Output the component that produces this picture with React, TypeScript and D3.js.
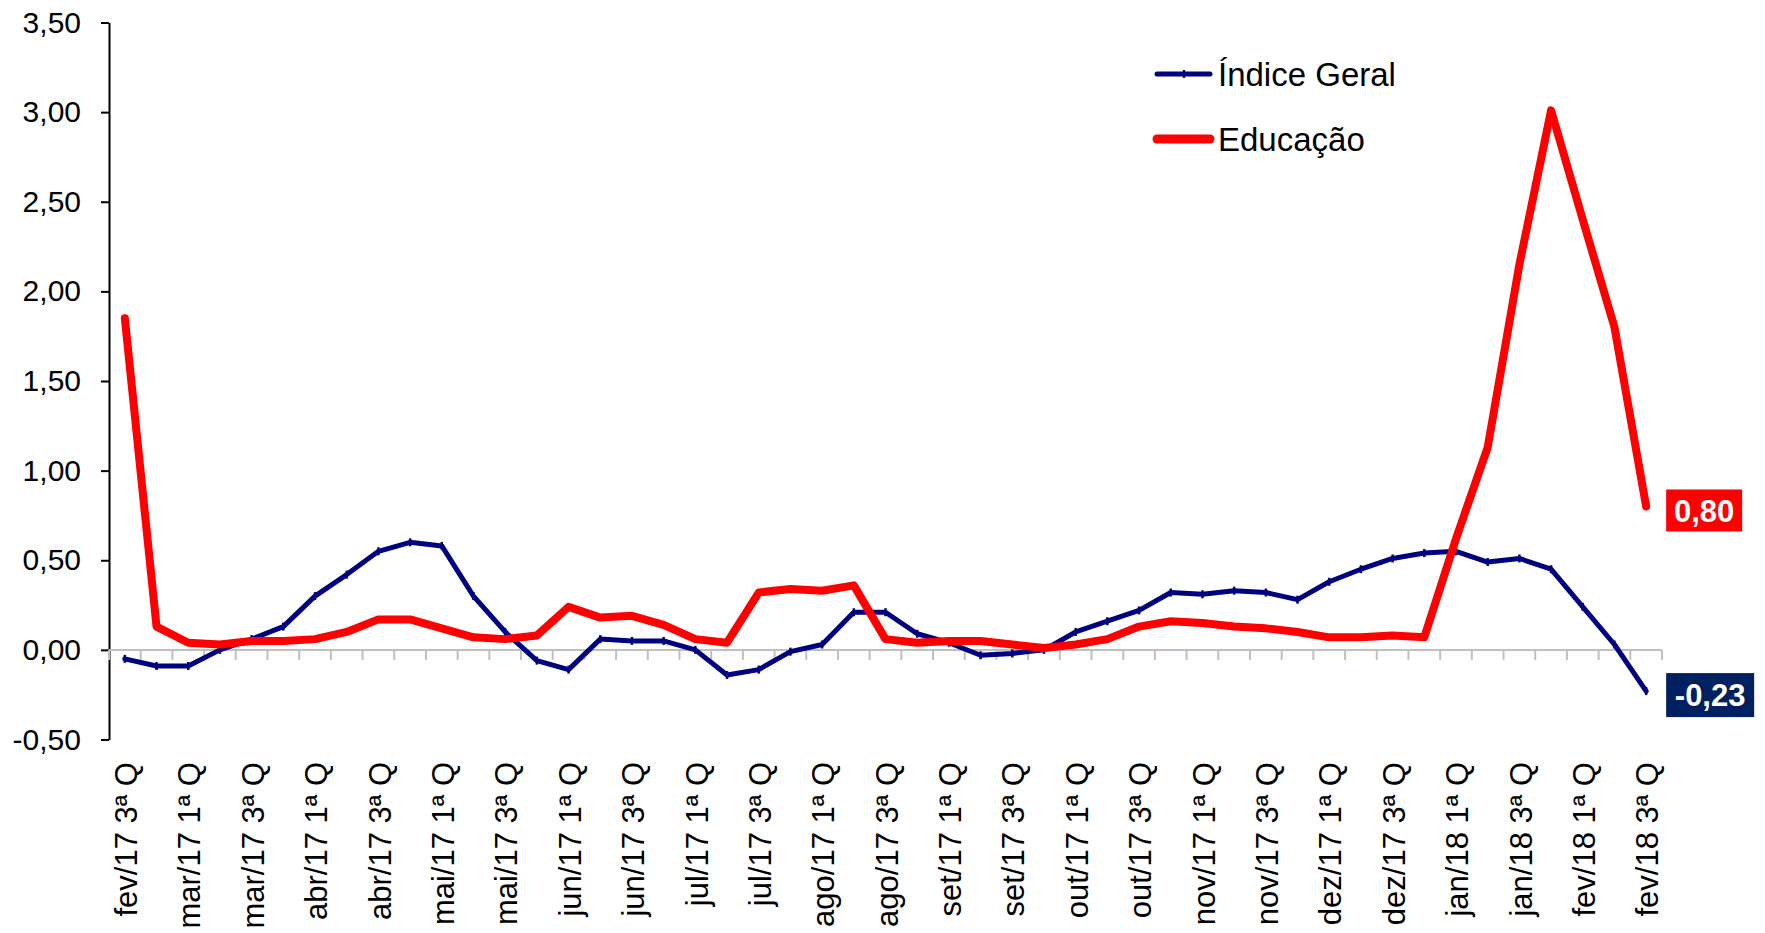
import { useEffect, useRef } from "react"
import * as d3 from "d3"

// quadrissemanas, fev/17 3ª Q .. fev/18 3ª Q
const categories = [
  "fev/17 3ª Q", "fev/17 4ª Q",
  "mar/17 1ª Q", "mar/17 2ª Q", "mar/17 3ª Q", "mar/17 4ª Q",
  "abr/17 1ª Q", "abr/17 2ª Q", "abr/17 3ª Q", "abr/17 4ª Q",
  "mai/17 1ª Q", "mai/17 2ª Q", "mai/17 3ª Q", "mai/17 4ª Q",
  "jun/17 1ª Q", "jun/17 2ª Q", "jun/17 3ª Q", "jun/17 4ª Q",
  "jul/17 1ª Q", "jul/17 2ª Q", "jul/17 3ª Q", "jul/17 4ª Q",
  "ago/17 1ª Q", "ago/17 2ª Q", "ago/17 3ª Q", "ago/17 4ª Q",
  "set/17 1ª Q", "set/17 2ª Q", "set/17 3ª Q", "set/17 4ª Q",
  "out/17 1ª Q", "out/17 2ª Q", "out/17 3ª Q", "out/17 4ª Q",
  "nov/17 1ª Q", "nov/17 2ª Q", "nov/17 3ª Q", "nov/17 4ª Q",
  "dez/17 1ª Q", "dez/17 2ª Q", "dez/17 3ª Q", "dez/17 4ª Q",
  "jan/18 1ª Q", "jan/18 2ª Q", "jan/18 3ª Q", "jan/18 4ª Q",
  "fev/18 1ª Q", "fev/18 2ª Q", "fev/18 3ª Q",
]

const indiceGeral = [
  -0.05, -0.09, -0.09, 0.0, 0.06, 0.13, 0.3, 0.42, 0.55, 0.6,
  0.58, 0.3, 0.1, -0.06, -0.11, 0.06, 0.05, 0.05, 0.0, -0.14,
  -0.11, -0.01, 0.03, 0.21, 0.21, 0.09, 0.04, -0.03, -0.02, 0.0,
  0.1, 0.16, 0.22, 0.32, 0.31, 0.33, 0.32, 0.28, 0.38, 0.45,
  0.51, 0.54, 0.55, 0.49, 0.51, 0.45, 0.24, 0.03, -0.23,
]

const educacao = [
  1.85, 0.13, 0.04, 0.03, 0.05, 0.05, 0.06, 0.1, 0.17, 0.17,
  0.12, 0.07, 0.06, 0.08, 0.24, 0.18, 0.19, 0.14, 0.06, 0.04,
  0.32, 0.34, 0.33, 0.36, 0.06, 0.04, 0.05, 0.05, 0.03, 0.01,
  0.03, 0.06, 0.13, 0.16, 0.15, 0.13, 0.12, 0.1, 0.07, 0.07,
  0.08, 0.07, 0.62, 1.13, 2.15, 3.01, 2.4, 1.8, 0.8,
]

const yTicks = [-0.5, 0, 0.5, 1, 1.5, 2, 2.5, 3, 3.5]

const seriesNames = ["Índice Geral", "Educação"]

export default function App() {
  const svgRef = useRef<SVGSVGElement>(null)

  useEffect(() => {
    if (!svgRef.current) return
    const width = 1765
    const height = 933

    d3.select(svgRef.current).selectAll("*").remove()
    const svg = d3
      .select(svgRef.current)
      .attr("width", width)
      .attr("height", height)
      .style("font-family", "'Liberation Sans', Arial, sans-serif")

    const x = d3.scaleBand<string>().domain(categories).range([109, 1662])
    const y = d3.scaleLinear().domain([-0.5, 3.5]).range([739.5, 22.5])
    const cx = (c: string) => (x(c) as number) + x.bandwidth() / 2
    const fmt = (v: number) => d3.format(".2f")(v).replace(".", ",").replace("−", "-")

    // y axis
    const yAxis = svg
      .append("g")
      .attr("transform", "translate(109,0)")
      .call(d3.axisLeft(y).tickValues(yTicks).tickSize(8).tickSizeOuter(0).tickPadding(20).tickFormat((d) => fmt(+d)))
    yAxis.select(".domain").attr("stroke", "#000").attr("stroke-width", 2)
    yAxis.selectAll(".tick line").attr("stroke", "#000").attr("stroke-width", 2)
    yAxis.selectAll(".tick text").attr("font-size", 30).attr("fill", "#000").attr("font-family", null)

    // category axis at zero
    const y0 = y(0)
    svg
      .append("line")
      .attr("x1", 109)
      .attr("x2", 1662)
      .attr("y1", y0)
      .attr("y2", y0)
      .attr("stroke", "#c0c0c0")
      .attr("stroke-width", 2)
    svg
      .append("g")
      .selectAll("line")
      .data(d3.range(categories.length + 1))
      .join("line")
      .attr("x1", (i) => 109 + i * x.step())
      .attr("x2", (i) => 109 + i * x.step())
      .attr("y1", y0)
      .attr("y2", y0 + 10)
      .attr("stroke", "#c0c0c0")
      .attr("stroke-width", 2)

    // category labels, every other one
    svg
      .append("g")
      .selectAll("text")
      .data(categories.filter((_, i) => i % 2 === 0))
      .join("text")
      .attr("transform", (d) => `translate(${cx(d) + 1},762) rotate(-90)`)
      .attr("text-anchor", "end")
      .attr("dy", "0.36em")
      .attr("font-size", 31)
      .text((d) => d)

    const line = d3
      .line<number>()
      .x((_, i) => cx(categories[i]))
      .y((d) => y(d))

    // Índice Geral
    svg
      .append("path")
      .datum(indiceGeral)
      .attr("fill", "none")
      .attr("stroke", "#000080")
      .attr("stroke-width", 5)
      .attr("stroke-linejoin", "round")
      .attr("stroke-linecap", "round")
      .attr("d", line)
    svg
      .append("g")
      .selectAll("line")
      .data(indiceGeral)
      .join("line")
      .attr("x1", (_, i) => cx(categories[i]))
      .attr("x2", (_, i) => cx(categories[i]))
      .attr("y1", (d) => y(d) - 4)
      .attr("y2", (d) => y(d) + 4)
      .attr("stroke", "#000080")
      .attr("stroke-width", 2.5)

    // Educação
    svg
      .append("path")
      .datum(educacao)
      .attr("fill", "none")
      .attr("stroke", "#ff0000")
      .attr("stroke-width", 8)
      .attr("stroke-linejoin", "round")
      .attr("stroke-linecap", "round")
      .attr("d", line)

    // end value labels
    const last = categories.length - 1
    const endLabels = [
      { v: educacao[last], fill: "#ff0000", w: 76, h: 42 },
      { v: indiceGeral[last], fill: "#002060", w: 88, h: 44 },
    ]
    const lab = svg
      .append("g")
      .selectAll("g")
      .data(endLabels)
      .join("g")
      .attr("transform", (d) => `translate(${cx(categories[last]) + 20},${y(d.v) + 4})`)
    lab
      .append("rect")
      .attr("x", 0)
      .attr("y", (d) => -d.h / 2)
      .attr("width", (d) => d.w)
      .attr("height", (d) => d.h)
      .attr("fill", (d) => d.fill)
    lab
      .append("text")
      .attr("x", (d) => d.w / 2)
      .attr("dy", "0.36em")
      .attr("text-anchor", "middle")
      .attr("font-size", 31)
      .attr("font-weight", "bold")
      .attr("fill", "#fff")
      .text((d) => fmt(d.v))

    // legend
    const legendColors = ["#000080", "#ff0000"]
    const legendWidths = [5, 9]
    const leg = svg
      .append("g")
      .selectAll("g")
      .data(seriesNames)
      .join("g")
      .attr("transform", (_, i) => `translate(1157,${74 + i * 65})`)
    leg
      .append("line")
      .attr("x1", 0)
      .attr("x2", 53)
      .attr("stroke", (_, i) => legendColors[i])
      .attr("stroke-width", (_, i) => legendWidths[i])
      .attr("stroke-linecap", "round")
    leg
      .filter((_, i) => i === 0)
      .append("line")
      .attr("x1", 27)
      .attr("x2", 27)
      .attr("y1", -4)
      .attr("y2", 4)
      .attr("stroke", "#000080")
      .attr("stroke-width", 2.5)
    leg
      .append("text")
      .attr("x", 61)
      .attr("dy", "0.36em")
      .attr("font-size", 33)
      .text((d) => d)
  }, [])

  return (
    <div style={{ position: "absolute", left: 0, top: 0 }}>
      <svg ref={svgRef}></svg>
    </div>
  )
}
